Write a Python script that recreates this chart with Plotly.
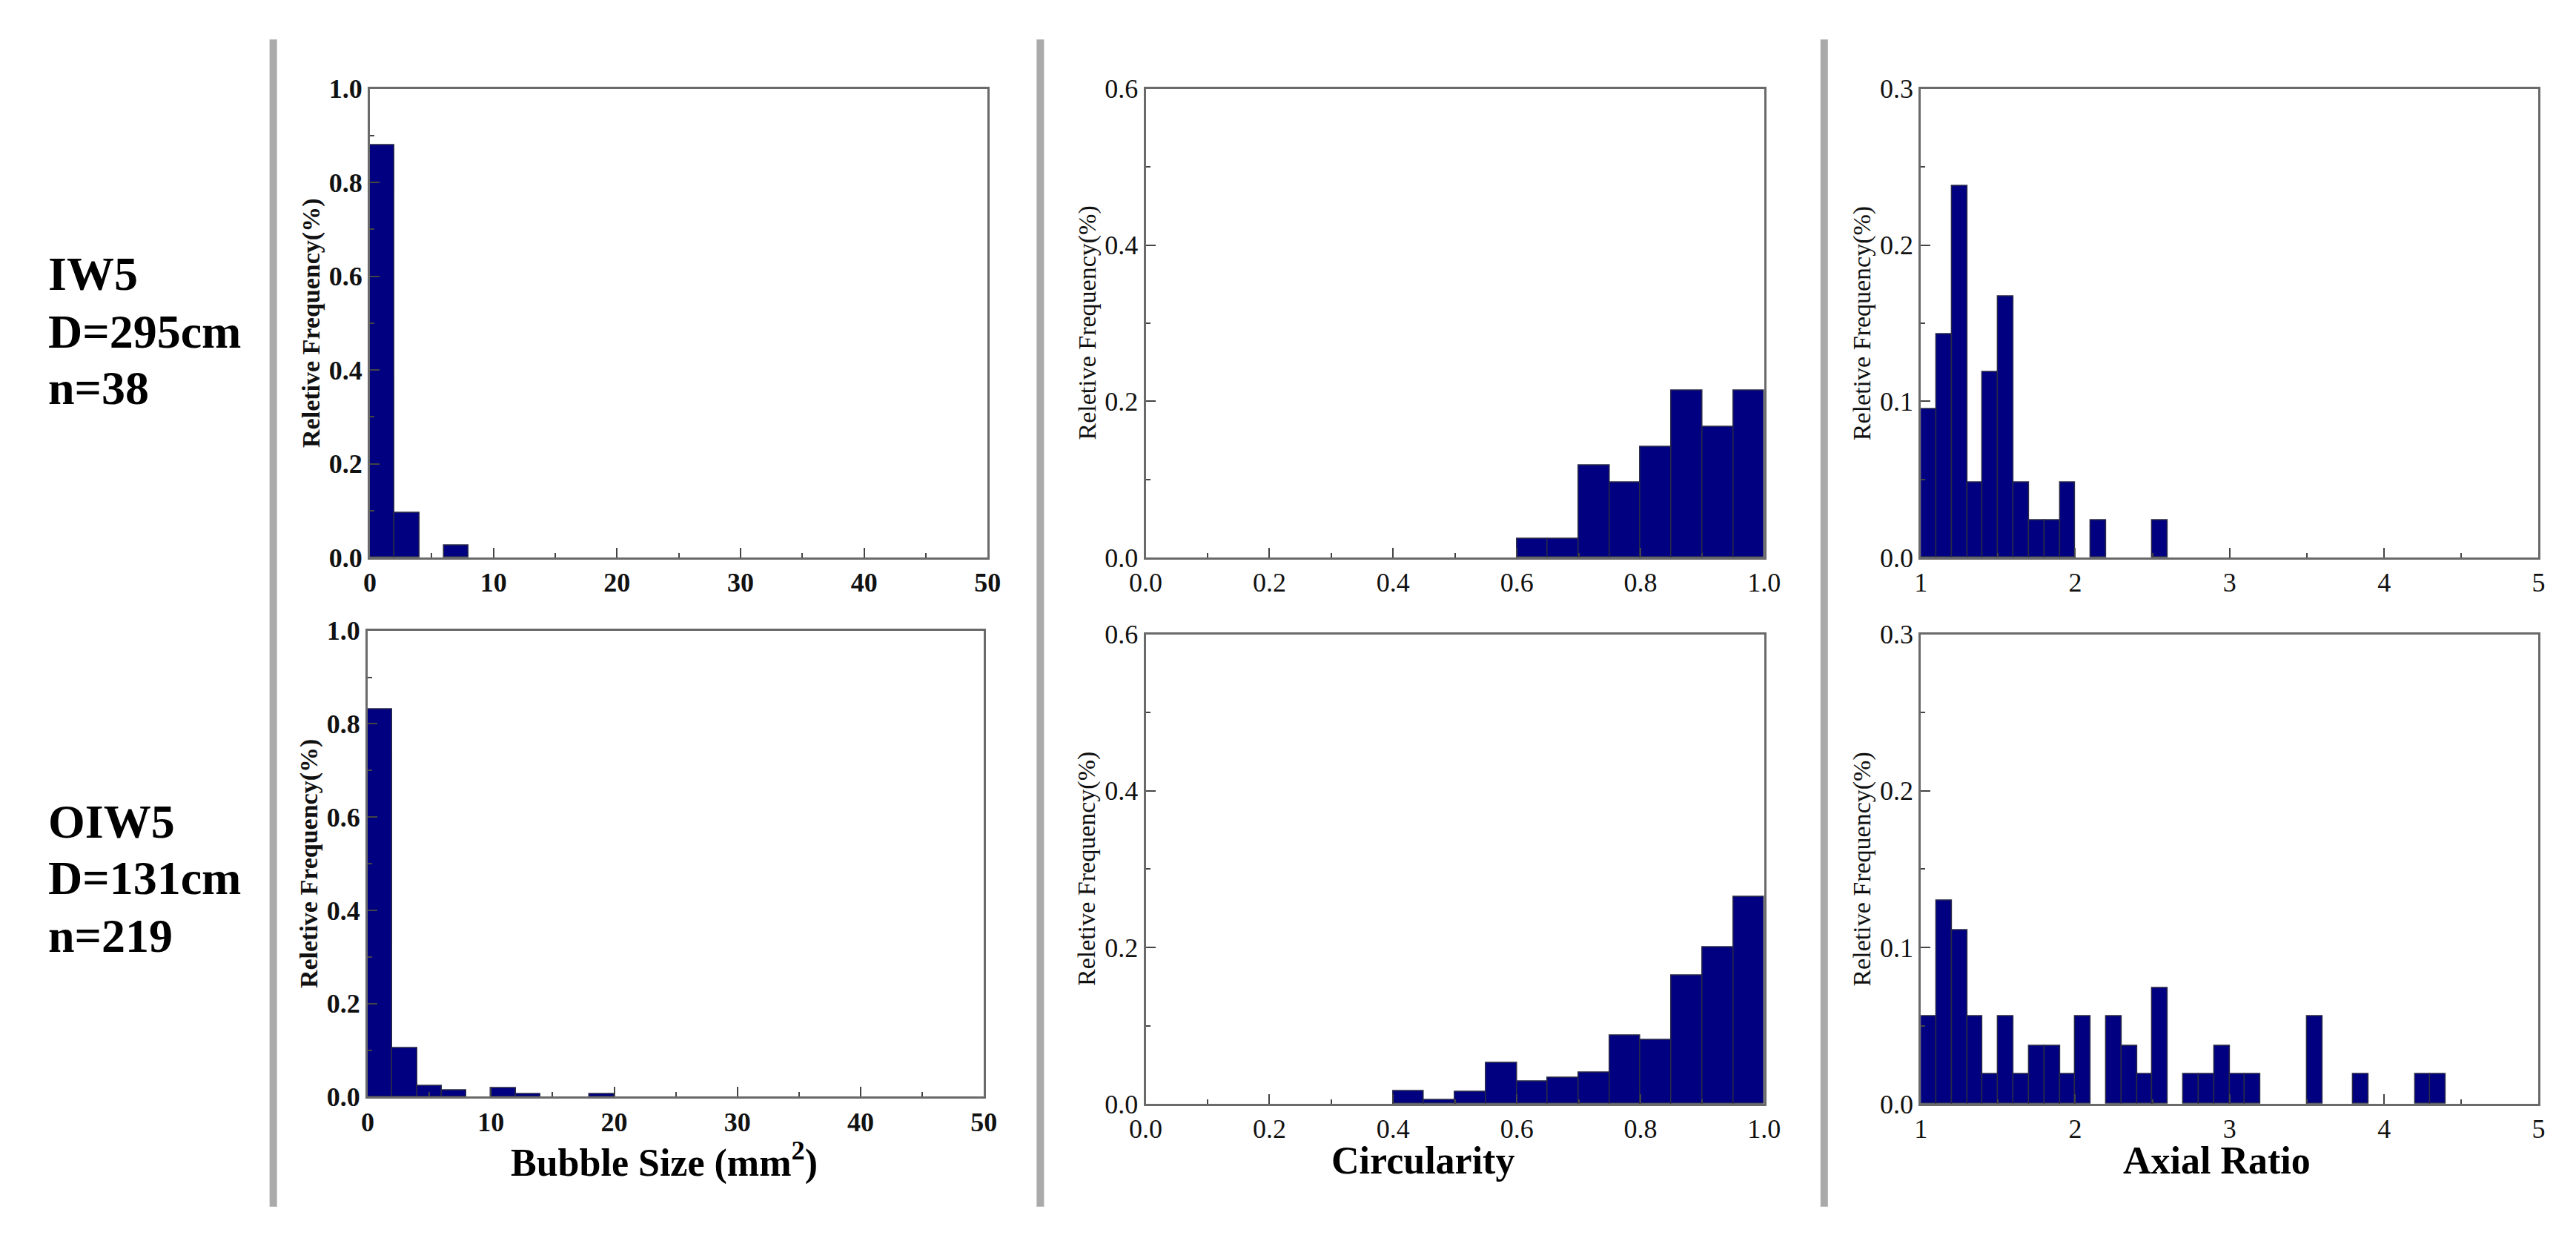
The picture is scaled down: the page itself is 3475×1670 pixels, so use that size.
import plotly.graph_objects as go

W, H = 3475, 1670

# ---------------- data ----------------
# Bubble size (mm^2), bin width 2
size_bin_start = [0, 2, 4, 6, 8, 10, 12, 14, 16, 18]
size_iw5 = [0.88, 0.095, 0.0, 0.026, 0.0, 0.0, 0.0, 0.0, 0.0, 0.0]
size_oiw5 = [0.831, 0.105, 0.023, 0.014, 0.0, 0.018, 0.005, 0.0, 0.0, 0.005]

# Circularity, bin width 0.05
circ_bin_start = [0.40, 0.45, 0.50, 0.55, 0.60, 0.65, 0.70, 0.75, 0.80, 0.85, 0.90, 0.95]
circ_iw5 = [0.0, 0.0, 0.0, 0.0, 0.024, 0.024, 0.118, 0.096, 0.142, 0.214, 0.167, 0.214]
circ_oiw5 = [0.017, 0.005, 0.016, 0.053, 0.029, 0.034, 0.040, 0.088, 0.082, 0.164, 0.200, 0.265]

# Axial ratio, bin width 0.1
axial_bin_start = [1.0, 1.1, 1.2, 1.3, 1.4, 1.5, 1.6, 1.7, 1.8, 1.9,
                   2.0, 2.1, 2.2, 2.3, 2.4, 2.5, 2.6, 2.7, 2.8, 2.9,
                   3.0, 3.1, 3.2, 3.3, 3.4, 3.5, 3.6, 3.7, 3.8, 3.9,
                   4.0, 4.1, 4.2, 4.3]
axial_iw5 = [0.095, 0.143, 0.238, 0.048, 0.119, 0.167, 0.048, 0.024, 0.024, 0.048,
             0.0, 0.024, 0.0, 0.0, 0.0, 0.024, 0.0, 0.0, 0.0, 0.0,
             0.0, 0.0, 0.0, 0.0, 0.0, 0.0, 0.0, 0.0, 0.0, 0.0,
             0.0, 0.0, 0.0, 0.0]
axial_oiw5 = [0.056, 0.130, 0.111, 0.056, 0.019, 0.056, 0.019, 0.037, 0.037, 0.019,
              0.056, 0.0, 0.056, 0.037, 0.019, 0.074, 0.0, 0.019, 0.019, 0.037,
              0.019, 0.019, 0.0, 0.0, 0.0, 0.056, 0.0, 0.0, 0.019, 0.0,
              0.0, 0.0, 0.019, 0.019]

row_labels = [["IW5", "D=295cm", "n=38"], ["OIW5", "D=131cm", "n=219"]]
x_titles = ["Bubble Size (mm<sup>2</sup>)", "Circularity", "Axial Ratio"]
y_title = "Reletive Frequency(%)"

# ---------------- styling ----------------
BAR = "#000080"
BAR_EDGE = "#2a2a48"
AXIS = "#6a6a6a"
SERIF = "Liberation Serif"

fig = go.Figure()

panels = [
    # (bin_start, values, bin width, axis index, x range, y range, x dtick, y dtick, xfmt, bold)
    (size_bin_start, size_iw5, 2.0, 1, [0, 50], [0, 1.0], 10, 0.2, "d", True),
    (circ_bin_start, circ_iw5, 0.05, 2, [0, 1.0], [0, 0.6], 0.2, 0.2, ".1f", False),
    (axial_bin_start, axial_iw5, 0.1, 3, [1, 5], [0, 0.3], 1, 0.1, "d", False),
    (size_bin_start, size_oiw5, 2.0, 4, [0, 50], [0, 1.0], 10, 0.2, "d", True),
    (circ_bin_start, circ_oiw5, 0.05, 5, [0, 1.0], [0, 0.6], 0.2, 0.2, ".1f", False),
    (axial_bin_start, axial_oiw5, 0.1, 6, [1, 5], [0, 0.3], 1, 0.1, "d", False),
]

# plot-area pixel boxes (left, right, top, bottom)
boxes = {
    1: (475, 1319, 95, 743),
    2: (1535, 2380, 95, 743),
    3: (2594, 3438, 95, 743),
    4: (472, 1314, 844, 1488),
    5: (1535, 2380, 849, 1498),
    6: (2594, 3438, 849, 1498),
}

layout_axes = {}
annotations = []
for starts, vals, bw, idx, xr, yr, xdt, ydt, xfmt, bold in panels:
    xs = [s + bw / 2 for s, v in zip(starts, vals) if v > 0]
    ys = [v for v in vals if v > 0]
    sfx = "" if idx == 1 else str(idx)
    fig.add_trace(go.Bar(
        x=xs, y=ys, width=bw,
        marker=dict(color=BAR, line=dict(color=BAR_EDGE, width=1.5)),
        xaxis="x" + sfx, yaxis="y" + sfx, showlegend=False,
    ))
    l, r, t, b = boxes[idx]
    weight = "bold" if bold else "normal"
    tickfont = dict(family=SERIF, size=36, color="#111111", weight=weight)
    layout_axes["xaxis" + sfx] = dict(
        domain=[l / W, r / W], anchor="y" + sfx, range=xr,
        dtick=xdt, tick0=xr[0], tickformat=xfmt,
        ticks="inside", ticklen=13, tickwidth=2, tickcolor="#444444",
        minor=dict(ticks="inside", ticklen=6, tickwidth=2, tickcolor="#444444", dtick=xdt / 2),
        showline=True, linecolor=AXIS, linewidth=3, mirror=True,
        showgrid=False, zeroline=False, tickfont=tickfont, fixedrange=True,
    )
    layout_axes["yaxis" + sfx] = dict(
        domain=[1 - b / H, 1 - t / H], anchor="x" + sfx, range=yr,
        dtick=ydt, tick0=0, tickformat=".1f",
        ticks="inside", ticklen=13, tickwidth=2, tickcolor="#444444",
        minor=dict(ticks="inside", ticklen=6, tickwidth=2, tickcolor="#444444", dtick=ydt / 2),
        showline=True, linecolor=AXIS, linewidth=3, mirror=True,
        showgrid=False, zeroline=False, tickfont=tickfont, fixedrange=True,
    )
    # y axis title
    annotations.append(dict(
        text=y_title, textangle=-90, xref="paper", yref="paper",
        x=(l - 80) / W, y=1 - ((t + b) / 2) / H, xanchor="center", yanchor="middle",
        showarrow=False, font=dict(family=SERIF, size=34, color="#111111", weight=weight),
    ))

# x axis titles (bottom row only)
title_centers = [877, 1914, 2998]
for txt, cx in zip(x_titles, title_centers):
    annotations.append(dict(
        text=txt, xref="paper", yref="paper", x=cx / W, y=1 - 1576 / H,
        xanchor="center", yanchor="middle", showarrow=False,
        font=dict(family=SERIF, size=52, color="#000000", weight="bold"),
    ))

# row labels
row_baselines = [[373, 453, 531], [1130, 1208, 1288]]
for labels, bases in zip(row_labels, row_baselines):
    for txt, bl in zip(labels, bases):
        annotations.append(dict(
            text=txt, xref="paper", yref="paper", x=33 / W, y=1 - (bl - 22) / H,
            xanchor="left", yanchor="middle", showarrow=False,
            font=dict(family=SERIF, size=64, color="#000000", weight="bold"),
        ))

# vertical separators
shapes = []
for sx in [343, 1391, 2462]:
    shapes.append(dict(type="line", xref="paper", yref="paper",
                       x0=sx / W, x1=sx / W, y0=1 - 27 / H, y1=1 - 1640 / H,
                       line=dict(color="#aaaaaa", width=10)))

fig.update_layout(
    width=W, height=H, margin=dict(l=0, r=0, t=0, b=0),
    paper_bgcolor="white", plot_bgcolor="white",
    annotations=annotations, shapes=shapes, bargap=0,
    **layout_axes,
)

fig.write_html("out.html")
